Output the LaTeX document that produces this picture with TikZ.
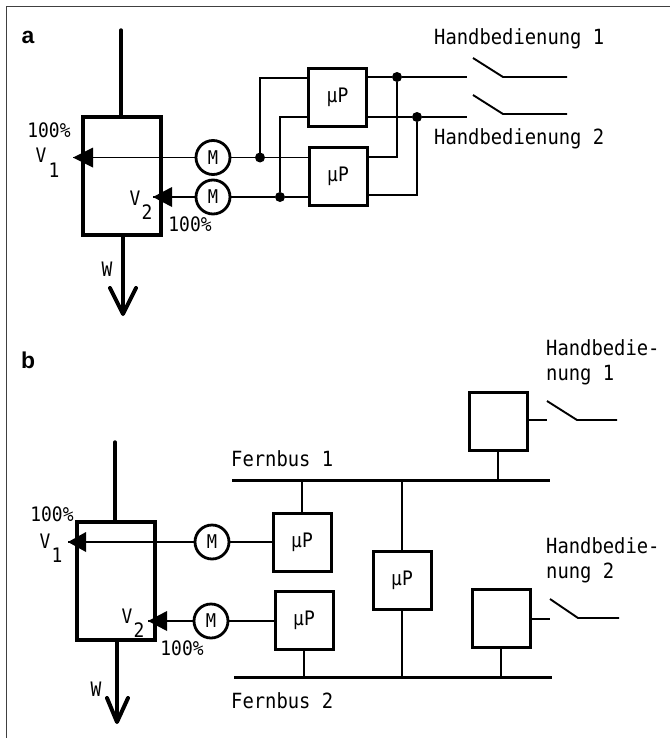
\documentclass[tikz,border=0pt]{standalone}
\usepackage{fontspec}
\setmainfont[FakeStretch=0.9]{DejaVu Sans Mono}
\newfontfamily\labelfont{Liberation Sans}
\usetikzlibrary{calc}
\tikzset{
  x=1bp,y=-1bp,
  frameline/.style={draw=black!75,line width=1.4bp},
  tank/.style={draw,line width=3.8bp,minimum width=78bp,minimum height=118bp,inner sep=0pt,outer sep=0pt},
  pipe/.style={line width=3.4bp},
  head/.style={line width=4bp},
  ctrl/.style={draw,line width=3bp,minimum width=58bp,minimum height=58bp,inner sep=0pt,outer sep=0pt,font=\fontsize{20}{20}\selectfont},
  motor/.style={circle,draw,line width=2.8bp,minimum size=34bp,inner sep=0pt,outer sep=0pt,font=\fontsize{19}{19}\selectfont},
  wire/.style={line width=1.9bp},
  bus/.style={line width=3bp},
  junction/.style={circle,fill=black,minimum size=10bp,inner sep=0pt,outer sep=0pt},
  valve/.style={fill=black,draw=none},
  txt/.style={inner sep=0pt,anchor=base west,font=\fontsize{21}{21}\selectfont},
  small/.style={inner sep=0pt,font=\fontsize{20}{20}\selectfont},
  panel/.style={inner sep=0pt,font=\labelfont\bfseries\fontsize{23}{23}\selectfont}
}
\begin{document}
\begin{tikzpicture}
\useasboundingbox (0,0) rectangle (670,738);
\fill[white] (0,0) rectangle (670,738);
\coordinate (fr1) at (6.5,738); \coordinate (fr2) at (6.5,6.5); \coordinate (fr3) at (670,6.5);
\draw[frameline] (fr1) -- (fr2) -- (fr3);
\node[panel] (la) at (28,37) {a};
\node[panel] (lb) at (28,360) {b};
% ---- a
\node[tank] (Ta) at (122,176) {};
\coordinate (Tain) at (121,30);
\coordinate (Taout) at (123,314);
\draw[pipe,line cap=round] (Tain) -- (Tain |- Ta.north);
\draw[pipe] (Taout |- Ta.south) -- (Taout);
\coordinate (Tal) at (110,288); \coordinate (Tar) at (136,288);
\draw[head,line cap=round,line join=round] (Tal) -- (Taout) -- (Tar);
\node[small] (wa) at (107,269) {W};
\node[small] (pa1) at (49,130) {100\%};
\node[small] (va1) at (41,155) {V};
\node[small] (sa1) at (54,170) {1};
\node[small] (va2) at (135,198) {V};
\node[small] (sa2) at (147,212) {2};
\node[small] (pa2) at (190,224) {100\%};
\node[motor] (Ma) at (213,157.5) {M};
\node[motor] (Mb) at (213,197) {M};
\node[ctrl] (Pa) at (337.5,97.5) {µP};
\node[ctrl] (Pb) at (338,176) {µP};
\coordinate (tipa) at (73,157.5); \coordinate (tipb) at (153,197);
\draw[wire] (Ma.west) -- (tipa);
\draw[wire] (Mb.west) -- (tipb);
\fill[valve] (tipa) -- (93,147.5) -- (93,167.5) -- cycle;
\fill[valve] (tipb) -- (172,187) -- (172,207) -- cycle;
\node[junction] (ja) at (260,157.5) {};
\node[junction] (jb) at (280,197) {};
\draw[wire] (Ma.east) -- (ja) -- (Pb.west |- ja);
\draw[wire] (Mb.east) -- (jb) -- (Pb.west |- jb);
\draw[wire] (ja) |- (Pa.west |- 0,78);
\draw[wire] (jb) |- (Pa.west |- 0,117);
\node[junction] (jc) at (397,77) {};
\node[junction] (jd) at (417,117) {};
\coordinate (sa) at (467,77); \coordinate (sb) at (467,117);
\draw[wire] (Pa.east |- jc) -- (jc) -- (sa);
\draw[wire] (Pa.east |- jd) -- (jd) -- (sb);
\draw[wire] (jc) |- (Pb.east |- 0,157);
\draw[wire] (jd) |- (Pb.east |- 0,195);
\coordinate (sw1a) at (473,58); \coordinate (sw1b) at (503,77); \coordinate (sw1c) at (567,77);
\coordinate (sw2a) at (473,95); \coordinate (sw2b) at (503,114); \coordinate (sw2c) at (567,114);
\draw[wire] (sw1a) -- (sw1b) -- (sw1c);
\draw[wire] (sw2a) -- (sw2b) -- (sw2c);
\node[txt] (ha) at (434,45) {Handbedienung 1};
\node[txt] (hb) at (434,144) {Handbedienung 2};
% ---- b
\node[tank] (Tb) at (116,581) {};
\coordinate (Tbin) at (115,442);
\coordinate (Tbout) at (117,722);
\draw[pipe,line cap=round] (Tbin) -- (Tbin |- Tb.north);
\draw[pipe] (Tbout |- Tb.south) -- (Tbout);
\coordinate (Tbl) at (107,698); \coordinate (Tbr) at (128,698);
\draw[head,line cap=round,line join=round] (Tbl) -- (Tbout) -- (Tbr);
\node[small] (wb) at (96,689) {W};
\node[small] (pb1) at (52,514) {100\%};
\node[small] (vb1) at (45,541) {V};
\node[small] (sb1) at (57,555) {1};
\node[small] (vb2) at (127,616) {V};
\node[small] (sb2) at (139,630) {2};
\node[small] (pb2) at (182,648) {100\%};
\node[motor] (Mc) at (212,542) {M};
\node[motor] (Md) at (211,621) {M};
\node[ctrl] (Pc) at (302,542) {µP};
\node[ctrl] (Pd) at (304,620) {µP};
\node[ctrl] (Pe) at (402,580) {µP};
\node[ctrl] (Pf) at (498,421) {};
\node[ctrl] (Pg) at (501,618.5) {};
\coordinate (tipc) at (68,542); \coordinate (tipd) at (148,621);
\draw[wire] (Mc.west) -- (tipc);
\draw[wire] (Md.west) -- (tipd);
\fill[valve] (tipc) -- (86,532) -- (86,552) -- cycle;
\fill[valve] (tipd) -- (167,611) -- (167,631) -- cycle;
\draw[wire] (Mc.east) -- (Pc.west);
\draw[wire] (Md.east) -- (Pd.west |- Md.east);
\coordinate (b1l) at (232,480); \coordinate (b1r) at (550,480);
\coordinate (b2l) at (234,677); \coordinate (b2r) at (552,677);
\draw[bus] (b1l) -- (b1r);
\draw[bus] (b2l) -- (b2r);
\draw[wire] (Pc.north) -- (Pc.north |- b1l);
\draw[wire] (Pd.south) -- (Pd.south |- b2l);
\draw[wire] (Pe.north) -- (Pe.north |- b1l);
\draw[wire] (Pe.south) -- (Pe.south |- b2l);
\draw[wire] (Pf.south) -- (Pf.south |- b1l);
\draw[wire] (Pg.south) -- (Pg.south |- b2l);
\coordinate (sw3o) at (547,420); \coordinate (sw3a) at (547,401); \coordinate (sw3b) at (577,420); \coordinate (sw3c) at (617,420);
\coordinate (sw4o) at (550,619); \coordinate (sw4a) at (550,599); \coordinate (sw4b) at (578,618); \coordinate (sw4c) at (619,618);
\draw[wire] (Pf.east |- sw3o) -- (sw3o);
\draw[wire] (Pg.east |- sw4o) -- (sw4o);
\draw[wire] (sw3a) -- (sw3b) -- (sw3c);
\draw[wire] (sw4a) -- (sw4b) -- (sw4c);
\node[txt] (hc1) at (546,355) {Handbedie-};
\node[txt] (hc2) at (546,380) {nung 1};
\node[txt] (hd1) at (546,553) {Handbedie-};
\node[txt] (hd2) at (546,578) {nung 2};
\node[txt] (f1) at (231,466) {Fernbus 1};
\node[txt] (f2) at (231,708) {Fernbus 2};
\end{tikzpicture}
\end{document}
